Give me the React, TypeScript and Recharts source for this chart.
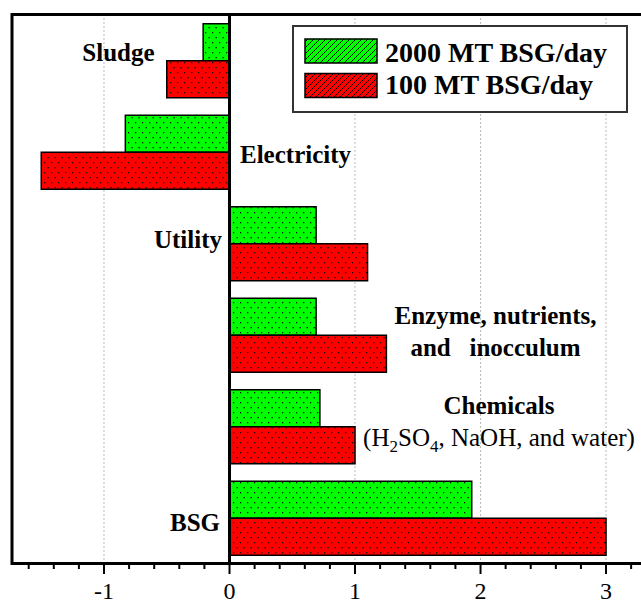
import {
  Bar,
  BarChart,
  CartesianGrid,
  LabelList,
  Legend,
  ReferenceArea,
  ReferenceLine,
  XAxis,
  YAxis,
} from "recharts";

const categories = [
  "Sludge",
  "Electricity",
  "Utility",
  "Enzyme, nutrients, and inocculum",
  "Chemicals",
  "BSG",
];
const bsg2000 = [-0.21, -0.83, 0.69, 0.69, 0.72, 1.93];
const bsg100 = [-0.5, -1.5, 1.1, 1.25, 1.0, 3.0];

// text shown next to each group; "_n" marks a subscript
const labelLines = [
  ["Sludge"],
  ["Electricity"],
  ["Utility"],
  ["Enzyme, nutrients,", "and   inocculum"],
  ["Chemicals", "(H_2SO_4, NaOH, and water)"],
  ["BSG"],
];

const xTicks = [
  -1.6, -1.4, -1.2, -1, -0.8, -0.6, -0.4, -0.2, 0, 0.2, 0.4, 0.6, 0.8, 1, 1.2,
  1.4, 1.6, 1.8, 2, 2.2, 2.4, 2.6, 2.8, 3, 3.2, 3.4,
];
const majorTicks = [-1, 0, 1, 2, 3];
const gridValues = [-1, 1, 2, 3];

const seriesNames = ["2000 MT BSG/day", "100 MT BSG/day"];

const data = categories.map((name, i) => ({
  name,
  big: bsg2000[i],
  small: bsg100[i],
}));

// label placement relative to the zero line and the middle of each group
const placement = [
  { anchor: "middle", dx: -111, dy: 0, bold: [true] },
  { anchor: "start", dx: 10.5, dy: 10.5, bold: [true] },
  { anchor: "end", dx: -7.5, dy: 4, bold: [true] },
  { anchor: "middle", dx: 266, dy: -11, bold: [true, true] },
  { anchor: "middle", dx: 269.5, dy: -12.5, bold: [true, false] },
  { anchor: "end", dx: -9.5, dy: 13, bold: [true] },
];

const FONT = "'Liberation Serif', 'Times New Roman', serif";
const DOMAIN: [number, number] = [-1.733, 3.43];

function richLine(line: string) {
  const parts = line.split(/_(\d)/);
  return parts.map((p, i) =>
    i % 2 === 1 ? (
      <tspan key={i} fontSize={17} dy={6}>
        {p}
      </tspan>
    ) : (
      <tspan key={i} dy={i === 0 ? 0 : -6}>
        {p}
      </tspan>
    )
  );
}

function GroupLabel(props: any) {
  const { x, y, width, height, index } = props;
  const v = bsg2000[index];
  const zero = width >= 0 ? (v < 0 ? x + width : x) : x;
  const mid = y + height;
  const p = placement[index];
  return (
    <g>
      {labelLines[index].map((line, k) => (
        <text
          key={k}
          x={zero + p.dx}
          y={mid + p.dy + k * 32}
          textAnchor={p.anchor as any}
          fontFamily={FONT}
          fontSize={25}
          fontWeight={p.bold[k] ? "bold" : "normal"}
          fill="#000"
          style={{ whiteSpace: "pre" }}
        >
          {richLine(line)}
        </text>
      ))}
    </g>
  );
}

function AxisTick(props: any) {
  const { x, y, payload } = props;
  const major = majorTicks.includes(payload.value);
  return (
    <g>
      <line
        x1={x}
        x2={x}
        y1={y}
        y2={y + (major ? 10.5 : 5.5)}
        stroke="#000"
        strokeWidth={2}
      />
      {major && (
        <text
          x={x}
          y={y + 35}
          textAnchor="middle"
          fontFamily={FONT}
          fontSize={24}
          fill="#000"
        >
          {payload.value}
        </text>
      )}
    </g>
  );
}

function Patterns({ prefix }: { prefix: string }) {
  return (
    <defs>
      {[
        ["green", "#00ff00"],
        ["red", "#ff0000"],
      ].map(([k, c]) => (
        <g key={k}>
          <pattern
            id={`${prefix}dots-${k}`}
            patternUnits="userSpaceOnUse"
            width={7}
            height={10}
          >
            <rect width={7} height={10} fill={c} />
            <rect x={2} y={2} width={1.3} height={1.3} fill="#111" />
            <rect x={5.5} y={7} width={1.3} height={1.3} fill="#111" />
          </pattern>
          <pattern
            id={`${prefix}hatch-${k}`}
            patternUnits="userSpaceOnUse"
            width={6}
            height={6}
          >
            <rect width={6} height={6} fill={c} />
            <path
              d="M0,6 L6,0 M-1.5,1.5 L1.5,-1.5 M4.5,7.5 L7.5,4.5"
              stroke="#000"
              strokeWidth={1}
            />
          </pattern>
        </g>
      ))}
    </defs>
  );
}

function LegendBox() {
  return (
    <svg width={336} height={88} style={{ display: "block" }}>
      <Patterns prefix="lg-" />
      <rect x={1} y={1} width={334} height={86} fill="#fff" stroke="#333" strokeWidth={2} />
      {["green", "red"].map((k, i) => (
        <g key={k}>
          <rect
            x={13}
            y={14 + i * 34.5}
            width={72}
            height={24}
            fill={`url(#lg-hatch-${k})`}
            stroke="#000"
            strokeWidth={1.5}
          />
          <text
            x={93}
            y={36.5 + i * 32.5}
            fontFamily={FONT}
            fontSize={28}
            fontWeight="bold"
            fill="#000"
          >
            {seriesNames[i]}
          </text>
        </g>
      ))}
    </svg>
  );
}

export default function App() {
  return (
    <div
      style={{
        position: "fixed",
        left: 0,
        top: 0,
        width: 641,
        height: 603,
        overflow: "hidden",
        background: "#fff",
      }}
    >
      <BarChart
        width={680}
        height={603}
        data={data}
        layout="vertical"
        margin={{ top: 14.5, left: 12, right: 20, bottom: 9.5 }}
        barCategoryGap="10%"
        barGap={0}
      >
        <Patterns prefix="" />
        <CartesianGrid
          horizontal={false}
          verticalValues={gridValues}
          stroke="#777"
          strokeDasharray="1 3"
        />
        <XAxis
          type="number"
          domain={DOMAIN}
          ticks={xTicks}
          allowDataOverflow
          interval={0}
          height={30}
          tickSize={0}
          tickMargin={0}
          tickLine={false}
          axisLine={{ stroke: "#000", strokeWidth: 3 }}
          tick={<AxisTick />}
        />
        <YAxis type="category" dataKey="name" hide />
        <Bar
          dataKey="big"
          name={seriesNames[0]}
          fill="url(#dots-green)"
          stroke="#000"
          strokeWidth={1.5}
          isAnimationActive={false}
        >
          <LabelList dataKey="name" content={<GroupLabel />} />
        </Bar>
        <Bar
          dataKey="small"
          name={seriesNames[1]}
          fill="url(#dots-red)"
          stroke="#000"
          strokeWidth={1.5}
          isAnimationActive={false}
        />
        <ReferenceLine x={0} stroke="#000" strokeWidth={3} />
        <ReferenceArea
          x1={DOMAIN[0]}
          x2={DOMAIN[1]}
          fill="none"
          fillOpacity={0}
          stroke="#000"
          strokeWidth={3}
        />
        <Legend
          layout="vertical"
          align="center"
          verticalAlign="middle"
          wrapperStyle={{ left: 292, top: 25, width: 336, height: 88 }}
          content={() => <LegendBox />}
        />
      </BarChart>
    </div>
  );
}
